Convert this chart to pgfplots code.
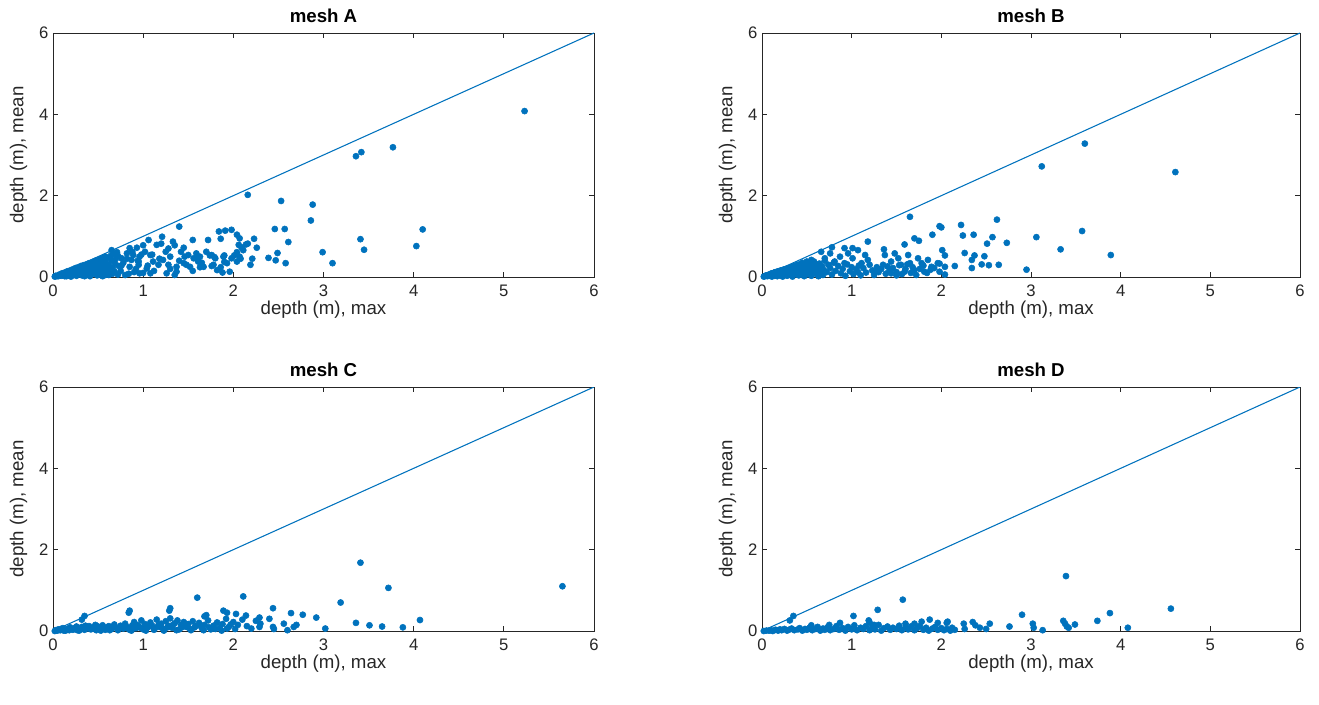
\documentclass[border=0pt]{standalone}
\usepackage{fontspec}
\setmainfont{Liberation Sans}
\usepackage{pgfplots}
\pgfplotsset{compat=1.18}
\definecolor{mblue}{rgb}{0,0.447,0.741}
\definecolor{mgray}{rgb}{0.15,0.15,0.15}
\pgfplotsset{
  mesh/.style={
    scale only axis, width=405.75pt, height=183pt,
    xmin=0, xmax=6, ymin=0, ymax=6,
    xtick={0,...,6}, ytick={0,2,4,6},
    tick align=inside, major tick length=4pt,
    axis line style={mgray, line width=0.6pt},
    tick style={mgray, line width=0.6pt},
    ticklabel style={font=\fontsize{12.5}{14}\selectfont, text=mgray},
    xticklabel style={yshift=-2.5pt},
    label style={font=\fontsize{14}{16}\selectfont, text=mgray},
    xlabel style={yshift=4pt},
    ylabel style={yshift=2pt},
    title style={font=\fontsize{14}{16}\selectfont\bfseries, yshift=-2pt},
    xlabel={depth (m), max}, ylabel={depth (m), mean},
    /pgf/number format/assume math mode=true,
  },
  pts/.style={only marks, mark=*, mark size=2.3pt, color=mblue},
  diag/.style={no marks, color=mblue, line width=0.8pt},
}
\begin{document}
\begin{tikzpicture}
\useasboundingbox (0,0) rectangle (989.25pt,-528.75pt);

% mesh A
\begin{axis}[mesh, at={(39.75pt,-24.75pt)}, anchor=north west, title={mesh A}]
\addplot[diag] coordinates {(0,0) (6,6)};
\addplot[pts] coordinates {
(0.02,0.01)(0.04,0.02)(0.05,0.03)(0.06,0.02)(0.08,0.05)(0.09,0.03)(0.10,0.06)(0.11,0.04)
(0.12,0.08)(0.13,0.02)(0.14,0.07)(0.15,0.10)(0.16,0.05)(0.17,0.11)(0.18,0.03)(0.19,0.12)
(0.20,0.08)(0.21,0.14)(0.22,0.05)(0.23,0.15)(0.24,0.10)(0.25,0.17)(0.26,0.03)(0.27,0.12)
(0.28,0.19)(0.29,0.07)(0.30,0.21)(0.31,0.14)(0.32,0.04)(0.33,0.23)(0.34,0.10)(0.35,0.18)
(0.36,0.26)(0.37,0.06)(0.38,0.15)(0.39,0.28)(0.40,0.21)(0.41,0.02)(0.42,0.12)(0.43,0.30)
(0.44,0.24)(0.45,0.08)(0.46,0.33)(0.47,0.17)(0.48,0.27)(0.49,0.04)(0.50,0.36)(0.51,0.21)
(0.52,0.11)(0.53,0.38)(0.54,0.30)(0.55,0.15)(0.56,0.42)(0.57,0.25)(0.58,0.05)(0.59,0.35)
(0.60,0.47)(0.61,0.19)(0.62,0.29)(0.63,0.10)(0.64,0.52)(0.65,0.40)(0.66,0.23)(0.67,0.57)
(0.68,0.14)(0.69,0.33)(0.70,0.46)(0.71,0.61)(0.72,0.06)(0.73,0.27)
(0.03,0.03)(0.07,0.06)(0.10,0.09)(0.13,0.11)(0.16,0.14)(0.19,0.16)(0.22,0.19)(0.25,0.22)
(0.28,0.24)(0.31,0.27)(0.34,0.29)(0.37,0.31)(0.40,0.34)(0.44,0.37)(0.47,0.40)(0.52,0.44)
(0.55,0.47)(0.58,0.50)(0.15,0.02)(0.20,0.01)(0.25,0.06)(0.30,0.09)(0.35,0.02)(0.40,0.07)
(0.45,0.13)(0.50,0.09)(0.55,0.02)(0.60,0.12)(0.62,0.05)(0.66,0.08)
(0.65,0.66)(0.85,0.71)(0.93,0.72)(0.82,0.58)(0.89,0.54)(0.96,0.50)(0.76,0.46)(0.87,0.42)(0.95,0.38)
(1.08,0.54)(1.11,0.38)(1.17,0.30)(1.04,0.21)(1.22,0.42)(1.30,0.50)(1.28,0.30)(1.37,0.25)
(1.45,0.34)(1.46,0.50)(1.50,0.54)(1.56,0.46)(1.59,0.58)(1.63,0.50)(1.61,0.38)(1.52,0.25)
(1.67,0.25)(1.37,0.13)(1.26,0.09)(1.08,0.09)(0.96,0.09)
(1.76,0.54)(1.80,0.46)(1.78,0.30)(1.89,0.50)(1.93,0.34)(1.98,0.46)(2.04,0.38)(1.82,0.17)
(1.96,0.13)(2.07,0.50)
(1.40,1.24)(1.21,0.99)(1.06,0.91)(1.15,0.79)(1.33,0.87)(1.35,0.78)(1.28,0.70)(1.55,0.91)
(1.72,0.91)(1.84,1.12)(1.91,1.14)(1.98,1.16)(1.86,0.94)(2.04,1.04)(2.07,0.95)(2.06,0.79)
(2.11,0.66)(2.14,0.80)
(0.75,0.15)(0.80,0.05)(0.85,0.25)(0.90,0.12)(0.95,0.30)(0.78,0.35)(0.82,0.45)(0.88,0.62)
(0.92,0.20)(0.98,0.55)(1.00,0.10)(0.72,0.52)(0.76,0.28)(0.84,0.08)(0.94,0.40)(1.02,0.62)
(1.05,0.28)(1.10,0.55)(1.12,0.15)(1.18,0.45)(1.25,0.62)(1.30,0.20)(1.35,0.05)(1.40,0.40)
(1.42,0.62)(1.48,0.30)(1.55,0.15)(1.60,0.45)(1.65,0.35)(1.70,0.62)(1.45,0.72)(1.20,0.82)
(1.00,0.78)
(2.16,2.02)(2.53,1.87)(2.88,1.78)(2.86,1.39)(2.46,1.18)(2.57,1.18)(2.23,0.94)(2.61,0.86)
(2.16,0.82)(2.26,0.72)(2.09,0.73)(2.04,0.61)(2.01,0.53)(2.08,0.45)(2.21,0.45)(2.19,0.30)
(2.39,0.47)(2.49,0.59)(2.47,0.41)(2.58,0.34)(2.99,0.61)(1.88,0.11)(1.76,0.27)
(1.86,0.24)(1.90,0.37)(1.90,0.53)(1.74,0.53)(1.79,0.49)(1.63,0.24)
(5.23,4.08)(3.36,2.97)(3.42,3.07)(3.77,3.19)(4.10,1.17)(4.03,0.76)(3.41,0.93)(3.45,0.67)
(3.10,0.34)
};
\end{axis}

% mesh B
\begin{axis}[mesh, at={(571.5pt,-24.75pt)}, anchor=north west, width=403.5pt, title={mesh B}]
\addplot[diag] coordinates {(0,0) (6,6)};
\addplot[pts] coordinates {
(0.02,0.01)(0.03,0.02)(0.05,0.04)(0.06,0.02)(0.08,0.06)(0.09,0.03)(0.10,0.08)(0.11,0.01)
(0.12,0.05)(0.13,0.10)(0.14,0.03)(0.15,0.12)(0.16,0.07)(0.17,0.02)(0.18,0.14)(0.19,0.09)
(0.20,0.04)(0.21,0.16)(0.22,0.11)(0.23,0.01)(0.24,0.18)(0.25,0.07)(0.26,0.13)(0.27,0.20)
(0.28,0.03)(0.29,0.10)(0.30,0.22)(0.31,0.15)(0.32,0.06)(0.33,0.24)(0.34,0.01)(0.35,0.12)
(0.36,0.18)(0.37,0.27)(0.38,0.08)(0.39,0.21)(0.40,0.30)(0.41,0.04)(0.42,0.14)(0.43,0.25)
(0.44,0.32)(0.45,0.10)(0.46,0.19)(0.47,0.02)(0.48,0.28)(0.49,0.13)(0.50,0.35)(0.51,0.07)
(0.52,0.22)(0.53,0.16)(0.54,0.30)(0.55,0.03)(0.56,0.11)(0.57,0.25)(0.58,0.38)(0.59,0.18)
(0.60,0.08)(0.61,0.29)(0.62,0.14)(0.63,0.02)(0.64,0.33)(0.65,0.21)(0.66,0.10)(0.67,0.26)
(0.68,0.05)(0.69,0.17)(0.70,0.40)(0.72,0.12)(0.74,0.30)(0.76,0.22)(0.78,0.06)(0.80,0.35)
(0.82,0.15)(0.85,0.27)(0.88,0.09)(0.90,0.20)(0.93,0.03)(0.95,0.31)(0.98,0.14)(1.00,0.24)
(1.02,0.07)(1.05,0.19)(1.08,0.28)(1.10,0.04)(1.13,0.22)(1.16,0.11)(1.20,0.30)(1.23,0.16)
(1.25,0.05)(1.28,0.24)(1.30,0.12)(1.33,0.20)(1.38,0.08)(1.40,0.26)(1.42,0.15)(1.46,0.22)
(1.50,0.12)(1.53,0.29)(1.56,0.07)(1.60,0.20)(1.62,0.31)(1.66,0.10)(1.68,0.24)(1.72,0.05)
(1.76,0.20)(1.80,0.28)(1.84,0.10)(1.88,0.18)(1.92,0.22)
(0.04,0.03)(0.07,0.05)(0.11,0.09)(0.14,0.11)(0.17,0.13)(0.20,0.15)(0.23,0.17)(0.26,0.19)
(0.29,0.21)(0.32,0.24)(0.35,0.26)(0.39,0.29)(0.42,0.31)(0.45,0.35)(0.50,0.38)(0.55,0.42)
(0.78,0.73)(0.92,0.71)(1.01,0.71)(1.07,0.66)(0.87,0.50)(0.96,0.58)(1.15,0.54)(1.18,0.42)
(1.11,0.34)(1.01,0.46)(0.92,0.34)(0.81,0.38)(0.76,0.58)(0.70,0.46)(0.66,0.62)
(1.36,0.68)(1.37,0.54)(1.48,0.58)(1.52,0.46)(1.44,0.38)(1.35,0.30)(1.55,0.30)(1.63,0.54)
(1.65,0.34)(1.74,0.46)(1.78,0.34)(1.85,0.42)(1.89,0.25)(1.70,0.17)(1.59,0.13)(1.44,0.09)
(1.26,0.13)(1.07,0.12)(1.96,0.34)(1.98,0.13)(1.81,0.13)(2.04,0.25)
(1.65,1.48)(1.98,1.25)(2.00,1.22)(1.18,0.87)(1.59,0.80)(1.70,0.95)(1.75,0.89)(2.01,0.66)
(3.12,2.72)(2.62,1.41)(2.22,1.28)(3.06,0.98)(1.90,1.04)(2.24,1.02)(2.36,1.04)(2.57,0.98)
(2.51,0.82)(2.73,0.84)(2.04,0.53)(2.26,0.59)(2.37,0.53)(2.48,0.51)(2.34,0.42)(2.15,0.27)
(2.34,0.22)(2.45,0.31)(2.53,0.29)(2.64,0.30)(2.95,0.18)(2.04,0.06)(1.98,0.33)(1.50,0.04)
(3.60,3.28)(4.61,2.58)(3.57,1.13)(3.33,0.68)(3.89,0.54)
};
\end{axis}

% mesh C
\begin{axis}[mesh, at={(39.75pt,-290.25pt)}, anchor=north west, title={mesh C}]
\addplot[diag] coordinates {(0,0) (6,6)};
\addplot[pts] coordinates {
(0.02,0.00)(0.05,0.01)(0.08,0.02)(0.10,0.03)(0.12,0.01)(0.15,0.04)(0.18,0.02)(0.20,0.06)
(0.22,0.03)(0.25,0.08)(0.27,0.02)(0.30,0.05)(0.32,0.10)(0.35,0.03)(0.38,0.07)(0.40,0.12)
(0.42,0.04)(0.45,0.09)(0.48,0.02)(0.50,0.11)(0.52,0.06)(0.55,0.14)(0.58,0.03)(0.60,0.09)
(0.62,0.12)(0.65,0.05)(0.68,0.16)(0.70,0.08)(0.72,0.02)(0.75,0.13)(0.78,0.06)(0.80,0.18)
(0.82,0.10)(0.85,0.03)(0.88,0.14)(0.90,0.22)(0.92,0.07)(0.95,0.12)(0.98,0.26)(1.00,0.04)
(1.02,0.17)(1.05,0.09)(1.08,0.21)(1.10,0.13)(1.12,0.03)(1.15,0.28)(1.18,0.10)(1.20,0.18)
(1.22,0.06)(1.25,0.24)(1.28,0.13)(1.30,0.31)(1.32,0.08)(1.35,0.19)(1.38,0.26)(1.40,0.04)
(1.42,0.15)(1.45,0.22)(1.48,0.10)(1.50,0.17)(1.52,0.05)(1.55,0.24)(1.58,0.12)(1.62,0.20)
(1.65,0.07)(1.68,0.15)(1.72,0.26)(1.75,0.04)(1.78,0.13)(1.82,0.21)(1.85,0.08)(1.88,0.17)
(1.92,0.30)(1.95,0.10)(2.00,0.22)(2.02,0.05)(2.05,0.15)(2.10,0.28)(2.15,0.12)(2.20,0.06)
(0.03,0.02)(0.06,0.04)(0.09,0.05)(0.11,0.07)(0.14,0.01)(0.17,0.06)(0.19,0.09)(0.23,0.05)
(0.26,0.11)(0.29,0.01)(0.33,0.06)(0.36,0.13)(0.44,0.06)(0.47,0.15)(0.53,0.01)(0.57,0.08)
(0.63,0.02)(0.66,0.10)(0.73,0.05)(0.77,0.10)(0.83,0.06)(0.87,0.01)(0.93,0.15)(0.97,0.08)
(1.03,0.01)(1.07,0.12)(1.13,0.07)(1.17,0.15)(1.23,0.01)(1.27,0.09)(1.33,0.15)(1.37,0.02)
(1.43,0.09)(1.47,0.18)(1.53,0.02)(1.57,0.09)(1.63,0.14)(1.67,0.02)(1.73,0.09)(1.80,0.05)
(1.87,0.01)(1.93,0.06)(1.97,0.16)
(0.35,0.37)(0.32,0.28)(0.85,0.50)(0.84,0.45)(1.30,0.56)(1.29,0.50)(1.60,0.82)(2.11,0.85)
(1.70,0.39)(1.68,0.36)(1.89,0.50)(1.93,0.45)(2.03,0.42)(2.14,0.38)(2.44,0.56)(2.64,0.44)
(2.77,0.40)(2.92,0.33)(2.29,0.33)(2.40,0.30)(3.02,0.06)(2.29,0.10)(2.44,0.10)(2.56,0.18)
(2.67,0.10)(2.30,0.18)(2.45,0.05)(2.60,0.02)(2.70,0.15)(2.25,0.25)
(3.41,1.68)(5.65,1.10)(3.72,1.06)(3.19,0.70)(3.36,0.20)(3.51,0.14)(3.65,0.11)(3.88,0.09)
(4.07,0.27)
};
\end{axis}

% mesh D
\begin{axis}[mesh, at={(571.5pt,-290.25pt)}, anchor=north west, width=403.5pt, title={mesh D}]
\addplot[diag] coordinates {(0,0) (6,6)};
\addplot[pts] coordinates {
(0.02,0.00)(0.05,0.01)(0.08,0.01)(0.10,0.02)(0.12,0.00)(0.15,0.03)(0.18,0.01)(0.20,0.04)
(0.22,0.02)(0.25,0.05)(0.28,0.01)(0.30,0.03)(0.33,0.06)(0.36,0.02)(0.40,0.04)(0.42,0.07)
(0.45,0.01)(0.48,0.05)(0.50,0.03)(0.53,0.08)(0.56,0.02)(0.60,0.05)(0.62,0.10)(0.65,0.01)
(0.68,0.06)(0.70,0.03)(0.73,0.09)(0.76,0.02)(0.80,0.05)(0.83,0.12)(0.86,0.03)(0.90,0.07)
(0.93,0.01)(0.96,0.10)(1.00,0.04)(1.03,0.14)(1.06,0.02)(1.10,0.08)(1.13,0.05)(1.16,0.12)
(1.20,0.02)(1.23,0.09)(1.26,0.04)(1.30,0.15)(1.33,0.01)(1.36,0.07)(1.40,0.11)(1.43,0.03)
(1.46,0.08)(1.50,0.05)(1.53,0.13)(1.56,0.02)(1.60,0.09)(1.63,0.04)(1.66,0.11)(1.70,0.02)
(1.73,0.07)(1.76,0.12)(1.80,0.03)(1.83,0.08)(1.86,0.01)(1.90,0.06)(1.93,0.10)(1.96,0.03)
(2.00,0.07)(2.03,0.02)(2.06,0.05)(2.10,0.01)(2.12,0.08)(2.15,0.03)
(0.35,0.37)(0.31,0.26)(0.87,0.20)(1.02,0.37)(1.29,0.52)(1.57,0.77)(1.19,0.26)(1.20,0.21)
(1.70,0.18)(1.78,0.23)(1.87,0.28)(1.96,0.20)(2.07,0.23)(2.06,0.20)(2.25,0.18)(2.35,0.22)
(2.38,0.14)(2.54,0.18)(2.26,0.05)(2.43,0.08)(2.50,0.05)(2.76,0.11)(2.90,0.40)(3.02,0.18)
(3.03,0.08)(3.13,0.02)(3.39,1.35)(4.56,0.55)(3.88,0.44)(3.74,0.25)(3.49,0.16)(3.36,0.25)
(3.38,0.18)(3.40,0.11)(3.42,0.08)(4.08,0.08)(1.25,0.15)(0.75,0.15)(0.55,0.14)(1.60,0.18)
};
\end{axis}
\end{tikzpicture}
\end{document}
